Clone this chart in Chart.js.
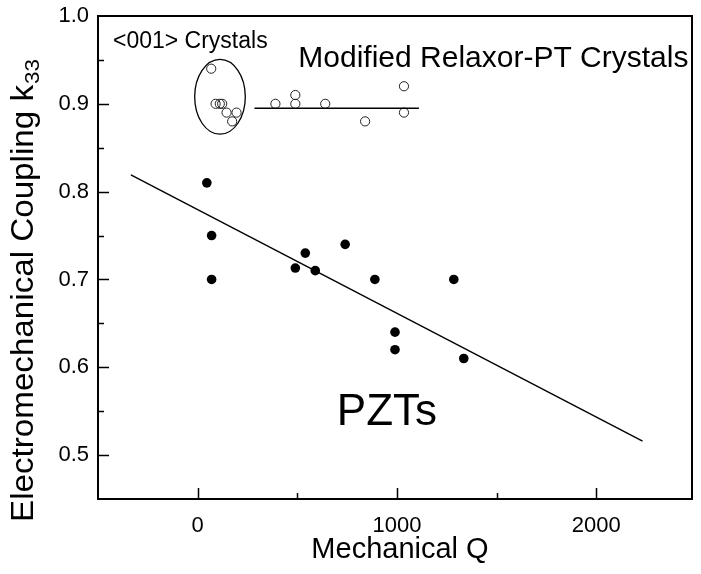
<!DOCTYPE html>
<html><head><meta charset="utf-8">
<script src="https://cdn.jsdelivr.net/npm/chart.js@4.4.1/dist/chart.umd.min.js"></script>
<style>html,body{margin:0;padding:0;background:#fff;}</style>
</head><body>
<canvas id="c" width="701" height="574"></canvas>
<script>
// ---- data ----
const pztQ = [46, 70, 70, 490, 540, 590, 740, 889, 990, 990, 1285, 1335];
const pztK = [0.81, 0.75, 0.70, 0.713, 0.73, 0.71, 0.74, 0.70, 0.64, 0.62, 0.70, 0.61];
const crystalQ = [68, 90, 111, 123, 145, 195, 173, 390, 490, 490, 640, 840, 1035, 1035];
const crystalK = [0.94, 0.90, 0.90, 0.90, 0.89, 0.89, 0.88, 0.90, 0.91, 0.90, 0.90, 0.88, 0.92, 0.89];
const pztFitQ = [-335, 2232];
const pztFitK = [0.819, 0.516];
const crystalFitQ = [285, 1110];
const crystalFitK = [0.895, 0.895];
const ellipseCenter = [112, 0.908];   // (Q, k) of the ring around the <001> crystals
const ellipseRadii = [127, 0.0426];   // half-widths in data units
const xTickValues = [0, 1000, 2000];
const yTickValues = [0.5, 0.6, 0.7, 0.8, 0.9, 1.0];
const xTitle = 'Mechanical Q';
const yTitleMain = 'Electromechanical Coupling k';
const yTitleSub = '33';
const labelCrystal001 = '<001> Crystals';
const labelRelaxor = 'Modified Relaxor-PT Crystals';
const labelPZT = 'PZTs';

const FONT = "'Liberation Sans', Arial, Helvetica, sans-serif";
const toPts = (xs, ys) => xs.map((x, i) => ({x: x, y: ys[i]}));

const decor = {
  id: 'decor',
  afterDraw(chart) {
    const ctx = chart.ctx;
    const xs = chart.scales.x, ys = chart.scales.y;
    const a = chart.chartArea;
    ctx.save();
    ctx.strokeStyle = '#000';
    // frame
    ctx.lineWidth = 2;
    ctx.strokeRect(a.left, a.top, a.right - a.left, a.bottom - a.top);
    // ticks (inward), major + minor
    ctx.lineWidth = 1.5;
    const xt = xs.ticks.map(t => t.value);
    const xStep = xt[1] - xt[0];
    for (let v = xt[0] - xStep / 2; v <= xs.max; v += xStep / 2) {
      const p = Math.round(xs.getPixelForValue(v)) + 0.5;
      if (p <= a.left + 2 || p >= a.right - 2) continue;
      const major = xt.some(t => Math.abs(t - v) < 1e-6);
      const len = major ? 11 : 6;
      ctx.beginPath(); ctx.moveTo(p, a.bottom); ctx.lineTo(p, a.bottom - len); ctx.stroke();
    }
    const yt = ys.ticks.map(t => t.value);
    const yStep = yt[1] - yt[0];
    for (let i = -1; i < yt.length * 2; i++) {
      const v = yt[0] + i * yStep / 2;
      if (v > ys.max + 1e-9) break;
      const p = Math.round(ys.getPixelForValue(v)) + 0.5;
      if (p <= a.top + 2 || p >= a.bottom - 2) continue;
      const major = (i % 2 === 0);
      const len = major ? 11 : 6;
      ctx.beginPath(); ctx.moveTo(a.left, p); ctx.lineTo(a.left + len, p); ctx.stroke();
    }
    // ellipse around <001> crystals
    const cx = xs.getPixelForValue(ellipseCenter[0]);
    const cy = ys.getPixelForValue(ellipseCenter[1]);
    const rx = Math.abs(xs.getPixelForValue(ellipseCenter[0] + ellipseRadii[0]) - cx);
    const ry = Math.abs(ys.getPixelForValue(ellipseCenter[1] + ellipseRadii[1]) - cy);
    ctx.lineWidth = 1.3;
    ctx.beginPath(); ctx.ellipse(cx, cy, rx, ry, 0, 0, Math.PI * 2); ctx.stroke();
    // annotations
    ctx.fillStyle = '#000';
    ctx.textBaseline = 'alphabetic';
    ctx.textAlign = 'left';
    ctx.font = '23px ' + FONT;
    ctx.fillText(labelCrystal001, xs.getPixelForValue(-425), ys.getPixelForValue(0.964));
    ctx.font = '30px ' + FONT;
    ctx.fillText(labelRelaxor, xs.getPixelForValue(505), ys.getPixelForValue(0.942));
    ctx.font = '44px ' + FONT;
    ctx.fillText(labelPZT, xs.getPixelForValue(698), ys.getPixelForValue(0.534));
    // x title
    ctx.font = '29px ' + FONT;
    ctx.textAlign = 'center';
    ctx.fillText(xTitle, (a.left + a.right) / 2 + 5, 558);
    // y title with subscript (slightly stretched along its length, as in the reference)
    ctx.translate(33, 291);
    ctx.rotate(-Math.PI / 2);
    ctx.scale(1.07, 1);
    ctx.textAlign = 'left';
    ctx.font = '31px ' + FONT;
    const w1 = ctx.measureText(yTitleMain).width;
    ctx.font = '21px ' + FONT;
    const w2 = ctx.measureText(yTitleSub).width;
    const start = -(w1 + w2) / 2;
    ctx.font = '31px ' + FONT;
    ctx.fillText(yTitleMain, start, 0);
    ctx.font = '21px ' + FONT;
    ctx.fillText(yTitleSub, start + w1 + 1, 6);
    ctx.restore();
  }
};

new Chart(document.getElementById('c'), {
  type: 'scatter',
  data: {
    datasets: [
      {label: 'PZT fit', data: toPts(pztFitQ, pztFitK), showLine: true, borderColor: '#000', borderWidth: 1.4, pointRadius: 0, fill: false},
      {label: 'Crystal fit', data: toPts(crystalFitQ, crystalFitK), showLine: true, borderColor: '#000', borderWidth: 1.4, pointRadius: 0, fill: false},
      {label: 'PZTs', data: toPts(pztQ, pztK), pointRadius: 4.8, pointBackgroundColor: '#000', pointBorderColor: '#000', pointBorderWidth: 0},
      {label: 'Relaxor-PT crystals', data: toPts(crystalQ, crystalK), pointRadius: 4.6, pointBackgroundColor: 'rgba(0,0,0,0)', pointBorderColor: '#222', pointBorderWidth: 1}
    ]
  },
  options: {
    responsive: false,
    devicePixelRatio: 1,
    animation: false,
    layout: {padding: {top: 16, right: 9, left: 0, bottom: 0}},
    plugins: {legend: {display: false}, tooltip: {enabled: false}},
    scales: {
      x: {
        type: 'linear', min: -500, max: 2480,
        grid: {display: false, drawTicks: false},
        border: {display: false},
        afterBuildTicks: s => { s.ticks = xTickValues.map(v => ({value: v})); },
        afterFit: s => { s.height = 75; s.paddingLeft = 0; s.paddingRight = 0; },
        ticks: {padding: 14, color: '#000', font: {family: FONT, size: 22}, callback: v => String(v), maxRotation: 0}
      },
      y: {
        type: 'linear', min: 0.45, max: 1.0,
        grid: {display: false, drawTicks: false},
        border: {display: false},
        afterBuildTicks: s => { s.ticks = yTickValues.map(v => ({value: v})); },
        afterFit: s => { s.width = 98; s.paddingTop = 0; s.paddingBottom = 0; },
        ticks: {padding: 9, color: '#000', font: {family: FONT, size: 22}, callback: v => Number(v).toFixed(1)}
      }
    }
  },
  plugins: [decor]
});
</script>
</body></html>
